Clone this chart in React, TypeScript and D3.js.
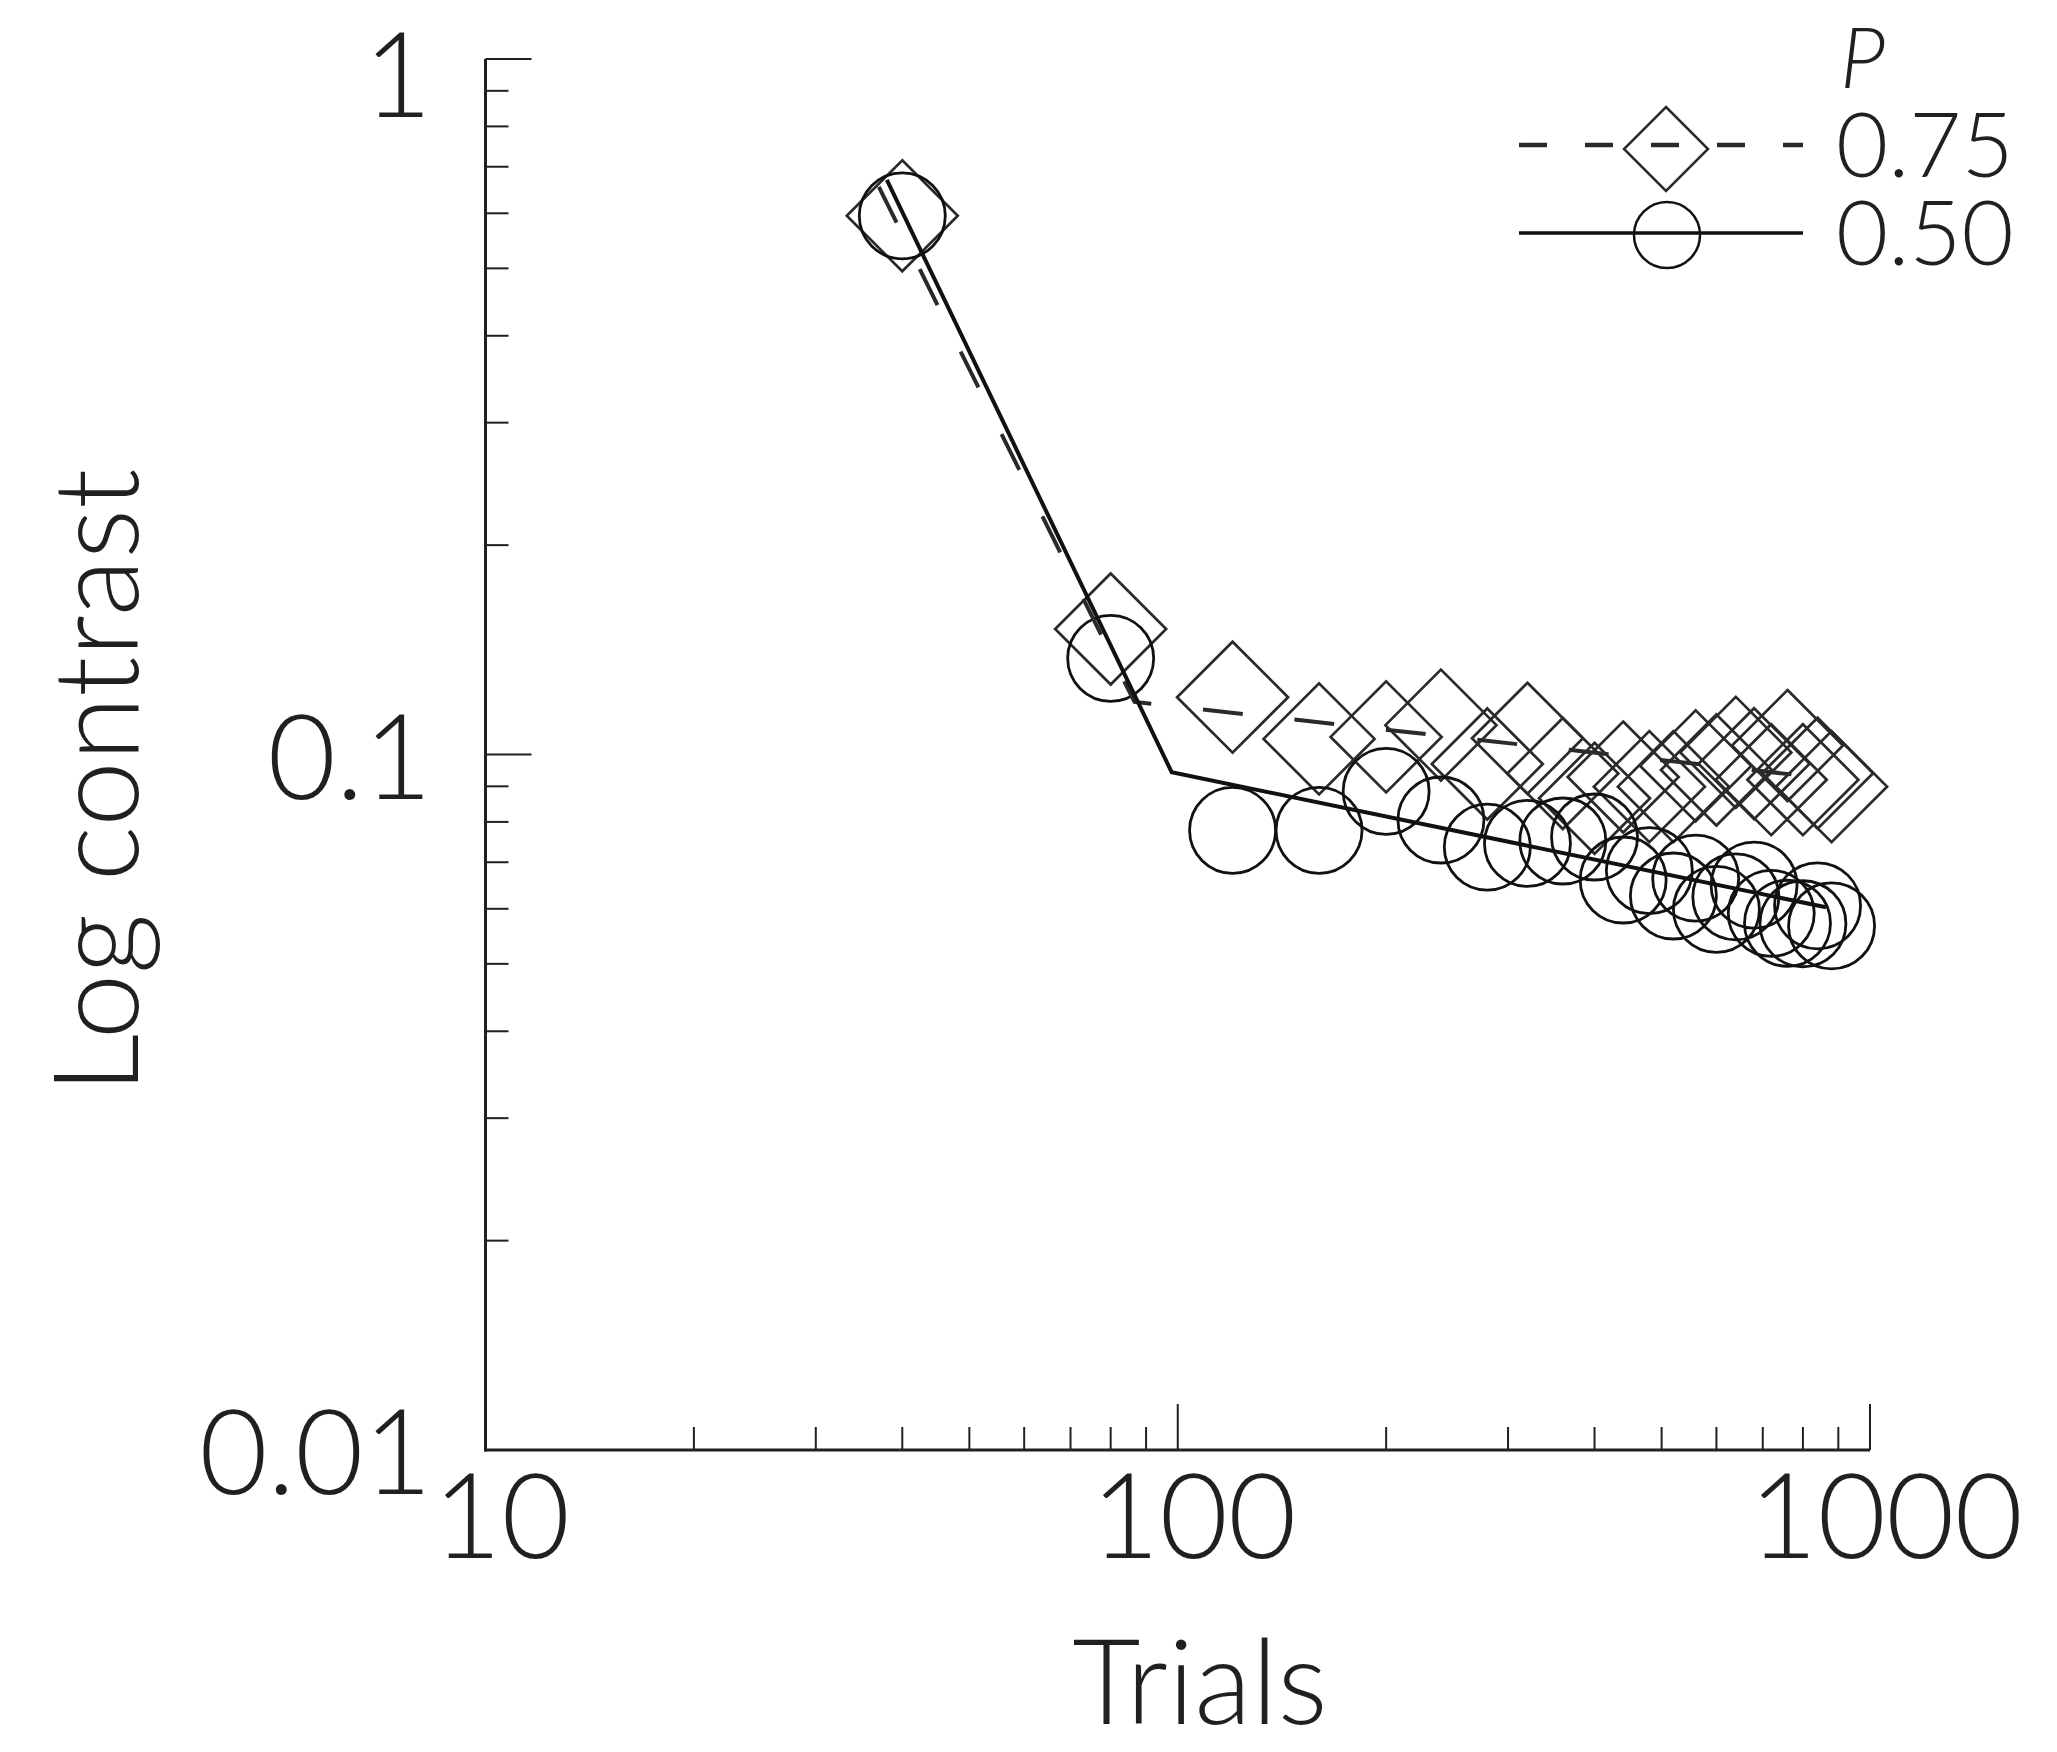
import React, { useEffect, useRef } from 'react';
import * as d3 from 'd3';

// trial blocks (x) and thresholds (y)
const trials = [40, 80, 120, 160, 200, 240, 280, 320, 360, 400, 440, 480, 520, 560, 600, 640, 680, 720, 760, 800, 840, 880];
const p75 = [0.595, 0.1515, 0.1209, 0.1053, 0.106, 0.1102, 0.0969, 0.1055, 0.0939, 0.0865, 0.0928, 0.0899, 0.0899, 0.0963, 0.095, 0.1007, 0.097, 0.092, 0.103, 0.092, 0.094, 0.0899];
const p50 = [0.595, 0.1375, 0.0778, 0.0778, 0.0885, 0.0805, 0.0736, 0.0745, 0.0751, 0.0761, 0.066, 0.0681, 0.0626, 0.0664, 0.0599, 0.0624, 0.0649, 0.0591, 0.0572, 0.0571, 0.0606, 0.0567];

// two-segment fits
const fit75X = [37, 86.6, 860];
const fit75Y = [0.655, 0.119, 0.0925];
const fit50X = [38, 98, 864];
const fit50Y = [0.67, 0.0943, 0.0603];

const xTickLabels = ['10', '100', '1000'];
const yTickLabels = ['0.01', '0.1', '1'];
const legendTitle = 'P';
const legendLabels = ['0.75', '0.50'];

const INK = '#231f20';
const FONT = "Lato, 'Noto Sans', sans-serif";

export default function App() {
    const svgRef = useRef<SVGSVGElement | null>(null);

    useEffect(() => {
        const svg = d3.select(svgRef.current);
        svg.selectAll('*').remove();

        const W = 2057;
        const H = 1752;
        svg.attr('width', W).attr('height', H);
        svg.append('rect').attr('width', W).attr('height', H).attr('fill', '#fff');

        const x = d3.scaleLog().domain([10, 1000]).range([485.5, 1870]);
        const y = d3.scaleLog().domain([0.01, 1]).range([1450, 59]);

        const isMajor = (v: number) => Math.abs(Math.log10(v) - Math.round(Math.log10(v))) < 1e-9;

        // Axes
        const axes = svg.append('g').attr('stroke', INK);
        axes.append('line')
            .attr('x1', x(10)).attr('x2', x(10))
            .attr('y1', y(1)).attr('y2', y(0.01) + 1.5)
            .attr('stroke-width', 3);
        axes.append('line')
            .attr('x1', x(10) - 1.5).attr('x2', x(1000))
            .attr('y1', y(0.01)).attr('y2', y(0.01))
            .attr('stroke-width', 3);

        y.ticks().forEach((t) => {
            const len = isMajor(t) ? 46 : 23;
            axes.append('line')
                .attr('x1', x(10)).attr('x2', x(10) + len)
                .attr('y1', y(t)).attr('y2', y(t))
                .attr('stroke-width', 2);
        });
        x.ticks().forEach((t) => {
            const len = isMajor(t) ? 46 : 23;
            axes.append('line')
                .attr('x1', x(t)).attr('x2', x(t))
                .attr('y1', y(0.01)).attr('y2', y(0.01) - len)
                .attr('stroke-width', 2);
        });

        // Tick labels
        const labelSize = 118;
        yTickLabels.forEach((lab) => {
            svg.append('text')
                .attr('x', 432)
                .attr('y', Math.max(y(+lab) + 44, 117))
                .attr('text-anchor', 'end')
                .attr('font-family', FONT)
                .attr('font-weight', 300)
                .attr('font-size', labelSize)
                .attr('fill', INK)
                .text(lab);
        });
        xTickLabels.forEach((lab) => {
            svg.append('text')
                .attr('x', x(+lab) + 16)
                .attr('y', 1558)
                .attr('text-anchor', 'middle')
                .attr('font-family', FONT)
                .attr('font-weight', 300)
                .attr('font-size', labelSize)
                .attr('fill', INK)
                .text(lab);
        });

        // Axis titles
        svg.append('text')
            .attr('x', 1200)
            .attr('y', 1724)
            .attr('text-anchor', 'middle')
            .attr('font-family', FONT)
            .attr('font-weight', 300)
            .attr('font-size', labelSize)
            .attr('fill', INK)
            .text('Trials');
        svg.append('text')
            .attr('transform', 'translate(138,781) rotate(-90)')
            .attr('text-anchor', 'middle')
            .attr('font-family', FONT)
            .attr('font-weight', 300)
            .attr('font-size', labelSize)
            .attr('fill', INK)
            .text('Log contrast');

        // Markers
        const plot = svg.append('g');
        const diamond = (r: number) => `M0,${-r}L${r},0L0,${r}L${-r},0Z`;

        plot.selectAll('path.d75')
            .data(trials)
            .enter()
            .append('path')
            .attr('class', 'd75')
            .attr('transform', (d, i) => `translate(${x(d)},${y(p75[i])})`)
            .attr('d', diamond(55.5))
            .attr('fill', 'none')
            .attr('stroke', '#2a2a2a')
            .attr('stroke-width', 2.7);

        plot.selectAll('circle.c50')
            .data(trials)
            .enter()
            .append('circle')
            .attr('class', 'c50')
            .attr('cx', (d) => x(d))
            .attr('cy', (d, i) => y(p50[i]))
            .attr('r', 43)
            .attr('fill', 'none')
            .attr('stroke', '#111')
            .attr('stroke-width', 2.8);

        // Fitted lines
        const fitPath = (xs: number[], ys: number[]) =>
            d3.line<number>()
                .x((d) => x(d))
                .y((d, i) => y(ys[i]))(xs);

        plot.append('path')
            .attr('d', fitPath(fit75X, fit75Y))
            .attr('fill', 'none')
            .attr('stroke', '#2a2a2a')
            .attr('stroke-width', 4)
            .attr('stroke-dasharray', '40 52');

        plot.append('path')
            .attr('d', fitPath(fit50X, fit50Y))
            .attr('fill', 'none')
            .attr('stroke', '#111')
            .attr('stroke-width', 4);

        // Legend
        const lg = svg.append('g');
        lg.append('text')
            .attr('x', 1840)
            .attr('y', 88)
            .attr('font-family', FONT)
            .attr('font-weight', 300)
            .attr('font-style', 'italic')
            .attr('font-size', 84)
            .attr('fill', INK)
            .text(legendTitle);

        const rowsY = [145, 233];
        legendLabels.forEach((lab, i) => {
            const ry = rowsY[i];
            lg.append('line')
                .attr('x1', 1519).attr('x2', 1803)
                .attr('y1', ry).attr('y2', ry)
                .attr('stroke', i === 0 ? '#2a2a2a' : '#111')
                .attr('stroke-width', i === 0 ? 4.5 : 3.5)
                .attr('stroke-dasharray', i === 0 ? '28 38' : null);
            if (i === 0) {
                lg.append('path')
                    .attr('transform', `translate(1666,${ry + 4})`)
                    .attr('d', diamond(42))
                    .attr('fill', 'none')
                    .attr('stroke', '#2a2a2a')
                    .attr('stroke-width', 2.5);
            } else {
                lg.append('circle')
                    .attr('cx', 1667)
                    .attr('cy', ry + 2)
                    .attr('r', 33)
                    .attr('fill', 'none')
                    .attr('stroke', '#111')
                    .attr('stroke-width', 2.5);
            }
            lg.append('text')
                .attr('x', 1836)
                .attr('y', ry + 32)
                .attr('font-family', FONT)
                .attr('font-weight', 300)
                .attr('font-size', 90)
                .attr('fill', INK)
                .text(lab);
        });
    }, []);

    return (
        <div style={{ position: 'absolute', left: 0, top: 0 }}>
            <svg ref={svgRef} style={{ display: 'block' }} />
        </div>
    );
}
